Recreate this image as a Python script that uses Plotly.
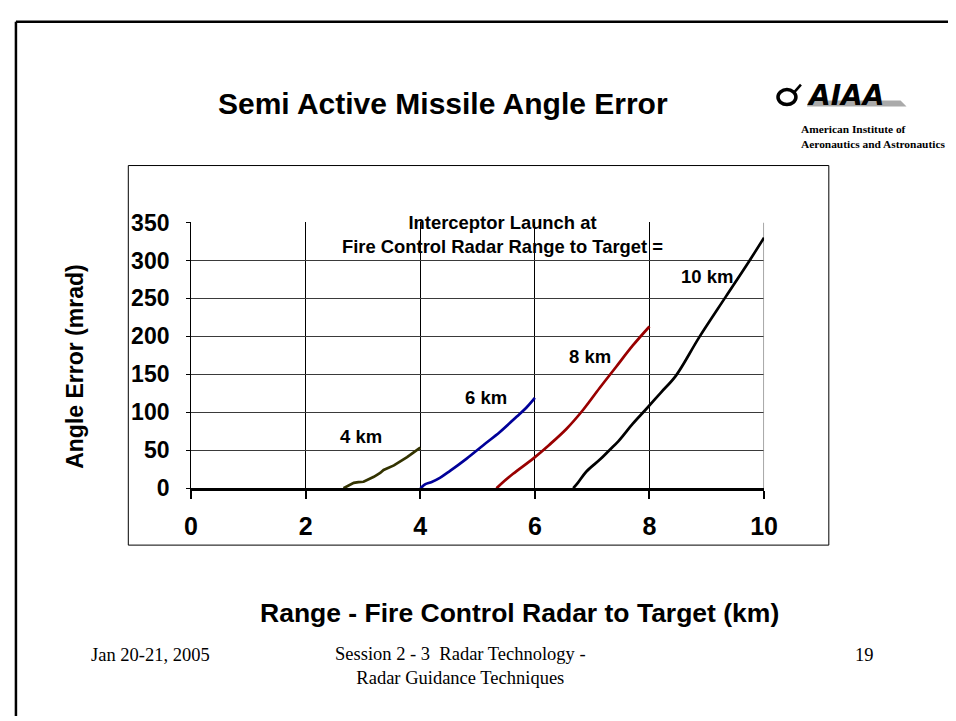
import plotly.graph_objects as go

W, H = 956, 721
# the photographed page comes out slightly shrunk and shifted, so target pixels are mapped back
SX, OX = 0.9815, 13.3
SY, OY = 0.965, 20.3

x_4km = [2.66, 2.75, 2.84, 2.92, 3.01, 3.19, 3.30, 3.36, 3.54, 3.77, 4.0]
y_4km = [0, 3, 7, 8, 8.5, 15, 20, 24, 30, 41, 53.5]

x_6km = [4.0, 4.05, 4.09, 4.2, 4.35, 4.52, 4.81, 5.10, 5.39, 5.68, 5.85, 6.0]
y_6km = [0, 3, 5.3, 8.3, 14, 22.8, 39, 56.6, 74, 94, 106, 119]

x_8km = [5.33, 5.4, 5.62, 5.97, 6.25, 6.55, 6.84, 7.13, 7.42, 7.71, 8.0]
y_8km = [0, 5, 19, 39, 57, 78, 103, 132, 160, 188, 213]

x_10km = [6.67, 6.75, 6.9, 7.14, 7.3, 7.46, 7.71, 7.94, 8.2, 8.46, 8.87, 9.33, 9.74, 10.0]
y_10km = [0, 7, 22, 38, 50, 62, 85, 104, 126, 148, 199, 252, 299, 330]

series_names = ['4 km', '6 km', '8 km', '10 km']
series_colors = ['#333300', '#000099', '#990000', '#000000']
label_x = [2.97, 5.15, 6.97, 9.0]
label_y = [68, 120, 174, 279]

x_ticks = [0, 2, 4, 6, 8, 10]
y_ticks = [0, 50, 100, 150, 200, 250, 300, 350]


# positions below are given in pixels of the final picture
def px(x):
    return (x - OX) / SX / W


def py(y):
    return 1 - (y - OY) / SY / H


fig = go.Figure()
for xs, ys, name, col in zip([x_4km, x_6km, x_8km, x_10km], [y_4km, y_6km, y_8km, y_10km],
                             series_names, series_colors):
    shape = 'linear' if name == '4 km' else 'spline'
    fig.add_trace(go.Scatter(x=xs, y=ys, mode='lines', name=name, cliponaxis=False,
                             line=dict(color=col, width=2.7, shape=shape, smoothing=1.0)))

bold = dict(family='Liberation Sans, Arial', color='black', weight='bold')
serif = dict(family='Liberation Serif, Times New Roman', color='black', size=18.5)

fig.update_layout(
    width=W, height=H, margin=dict(l=0, r=0, t=0, b=0),
    paper_bgcolor='white', plot_bgcolor='white', showlegend=False,
    xaxis=dict(domain=[px(190), px(765)], range=[0, 10], tickvals=x_ticks,
               showgrid=True, gridcolor='black', gridwidth=1,
               showline=True, linecolor='black', linewidth=3, zeroline=False,
               ticks='outside', ticklen=8, tickwidth=2, tickcolor='black',
               ticklabelstandoff=6, tickfont=dict(size=25, **bold)),
    yaxis=dict(domain=[py(488), py(222)], range=[0, 350], tickvals=y_ticks,
               showgrid=True, gridcolor='#3a3a3a', gridwidth=1,
               showline=True, linecolor='black', linewidth=1, zeroline=False,
               ticks='outside', ticklen=4, tickwidth=1, tickcolor='black',
               ticklabelstandoff=12, tickfont=dict(size=23, **bold)),
)

shapes = [
    # slide frame
    dict(type='line', xref='paper', yref='paper', x0=0.001, x1=1, y0=0.999, y1=0.999,
         line=dict(color='black', width=2.5)),
    dict(type='line', xref='paper', yref='paper', x0=0.001, x1=0.001, y0=0.999, y1=0,
         line=dict(color='black', width=2.5)),
    # chart box
    dict(type='rect', xref='paper', yref='paper', x0=px(127), x1=px(830), y0=py(545), y1=py(165),
         line=dict(color='black', width=1), layer='below'),
    # right edge of the plot area
    dict(type='line', xref='x', yref='y', x0=10, x1=10, y0=0, y1=350,
         line=dict(color='#888888', width=1.5), layer='between'),
    # white box behind the chart note
    dict(type='rect', xref='paper', yref='paper', x0=px(333), x1=px(680), y0=py(262), y1=py(208),
         fillcolor='white', line=dict(width=0), layer='between'),
    # logo bits
    dict(type='circle', xref='paper', yref='paper', x0=px(779), x1=px(797), y0=py(104), y1=py(89),
         line=dict(color='black', width=3.5)),
    dict(type='line', xref='paper', yref='paper', x0=px(795), x1=px(802), y0=py(92), y1=py(84),
         line=dict(color='black', width=2.5)),
    dict(type='path', xref='paper', yref='paper',
         path=f'M {px(810)} {py(100)} L {px(902)} {py(100)} L {px(908)} {py(106)} L {px(808)} {py(106)} Z',
         fillcolor='#aaaaaa', line=dict(width=0)),
]
fig.update_layout(shapes=shapes)

ann = [
    dict(text='Semi Active Missile Angle Error', x=px(443), y=py(103), font=dict(size=30, **bold)),
    dict(text='Interceptor Launch at<br>Fire Control Radar Range to Target =', x=px(503), y=py(234),
         font=dict(size=18.4, **bold)),
    dict(text='Angle Error (mrad)', x=px(74), y=py(366), textangle=-90, font=dict(size=23, **bold)),
    dict(text='Range - Fire Control Radar to Target (km)', x=px(520), y=py(613),
         font=dict(size=26.5, **bold)),
    dict(text='<i>AIAA</i>', x=px(806), y=py(95), xanchor='left',
         font=dict(size=28, family='DejaVu Sans', color='black', weight='bold')),
    dict(text='American Institute of<br>Aeronautics and Astronautics', x=px(800), y=py(136),
         xanchor='left', align='left',
         font=dict(size=11.4, family='Liberation Serif', color='black', weight='bold')),
    dict(text='Jan 20-21, 2005', x=px(88), y=py(655), xanchor='left', font=serif),
    dict(text='Session 2 - 3&nbsp; Radar Technology -<br>Radar Guidance Techniques', x=px(460),
         y=py(666), font=serif),
    dict(text='19', x=px(866), y=py(655), font=serif),
]
for a in ann:
    a.setdefault('xanchor', 'center')
    fig.add_annotation(xref='paper', yref='paper', yanchor='middle', showarrow=False, **a)

for name, lx, ly in zip(series_names, label_x, label_y):
    fig.add_annotation(x=lx, y=ly, text=name, showarrow=False, font=dict(size=18.5, **bold))

fig.write_html("out.html")
